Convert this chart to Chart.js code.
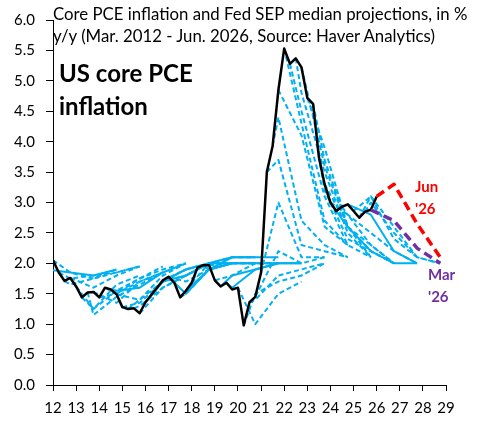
<!DOCTYPE html>
<html>
<head>
<meta charset="utf-8">
<script src="https://cdn.jsdelivr.net/npm/chart.js@4.4.1/dist/chart.umd.min.js"></script>
<style>
  body { margin: 0; background: #fff; }
  #wrap { position: relative; width: 480px; height: 422px; }
  .txt { position: absolute; white-space: nowrap; font-family: Lato, sans-serif; color: #000; }
  #title { left: 53px; top: 3px; font-size: 16.8px; line-height: 22px; }
  #big { left: 59px; top: 56px; font-size: 24px; line-height: 33px; font-weight: bold; }
  #jun { left: 415px; top: 175px; font-size: 15px; line-height: 22px; font-weight: bold; color: #ff0000; }
  #mar { left: 428px; top: 263px; font-size: 15px; line-height: 22px; font-weight: bold; color: #7030a0; }
</style>
</head>
<body>
<div id="wrap">
  <canvas id="chart" width="480" height="422"></canvas>
  <div id="title" class="txt">Core PCE inflation and Fed SEP median projections, in %<br>y/y (Mar. 2012 - Jun. 2026, Source: Haver Analytics)</div>
  <div id="big" class="txt">US core PCE<br>inflation</div>
  <div id="jun" class="txt">Jun<br>'26</div>
  <div id="mar" class="txt">Mar<br>'26</div>
</div>
<script>
// quarterly core PCE y/y, starting 2011Q4 (x = 11.75)
const actualStart = 11.75;
const coreActual = [
  1.90,
  2.05, 1.85, 1.71, 1.76,   // 2012
  1.62, 1.44, 1.52, 1.53,   // 2013
  1.44, 1.60, 1.57, 1.49,   // 2014
  1.28, 1.25, 1.26, 1.18,   // 2015
  1.36, 1.48, 1.60, 1.72,   // 2016
  1.78, 1.68, 1.44, 1.55,   // 2017
  1.68, 1.93, 1.97, 1.97,   // 2018
  1.72, 1.62, 1.68, 1.57,   // 2019
  1.60, 0.98, 1.36, 1.45,   // 2020
  1.85, 3.50, 3.93, 4.85,   // 2021
  5.53, 5.28, 5.37, 5.22,   // 2022
  4.72, 4.62, 3.75, 3.30,   // 2023
  3.00, 2.86, 2.93, 2.97,   // 2024
  2.86, 2.75, 2.85, 2.88,   // 2025
  3.10                      // 2026Q1
];

// SEP meetings and their Q4/Q4 medians (SEP year, +1, +2, ...)
const sepDates = [
  '2012-03','2012-06','2012-09','2012-12',
  '2013-03','2013-06','2013-09','2013-12',
  '2014-03','2014-06','2014-09','2014-12',
  '2015-03','2015-06','2015-09','2015-12',
  '2016-03','2016-06','2016-09','2016-12',
  '2017-03','2017-06','2017-09','2017-12',
  '2018-03','2018-06','2018-09','2018-12',
  '2019-03','2019-06','2019-09','2019-12',
  '2020-06','2020-09','2020-12',
  '2021-03','2021-06','2021-09','2021-12',
  '2022-03','2022-06','2022-09','2022-12',
  '2023-03','2023-06','2023-09','2023-12',
  '2024-03','2024-06','2024-09','2024-12',
  '2025-03','2025-06','2025-09','2025-12',
  '2026-03','2026-06'
];
const sepMedians = [
  [1.85, 1.80, 1.90], [1.85, 1.75, 1.90], [1.75, 1.80, 1.85, 1.95], [1.65, 1.75, 1.85, 1.95],
  [1.60, 1.80, 1.95], [1.25, 1.65, 1.80], [1.25, 1.55, 1.75, 1.95], [1.15, 1.45, 1.65, 1.85],
  [1.35, 1.70, 1.85], [1.50, 1.70, 1.85], [1.50, 1.75, 1.90, 2.00], [1.55, 1.60, 1.85, 2.00],
  [1.40, 1.80, 2.00], [1.35, 1.70, 1.90], [1.40, 1.70, 1.90, 2.00], [1.30, 1.60, 1.80, 2.00],
  [1.60, 1.80, 2.00], [1.70, 1.90, 2.00], [1.70, 1.80, 2.00, 2.00], [1.70, 1.80, 2.00, 2.00],
  [1.90, 2.00, 2.00], [1.70, 1.90, 2.00], [1.50, 1.90, 2.00, 2.00], [1.50, 1.90, 2.00, 2.00],
  [1.90, 2.10, 2.10], [2.00, 2.10, 2.10], [2.00, 2.10, 2.10, 2.10], [1.90, 2.00, 2.00, 2.00],
  [2.00, 2.00, 2.00], [1.80, 2.00, 2.00], [1.80, 1.90, 2.00, 2.00], [1.60, 1.90, 2.00, 2.00],
  [1.00, 1.50, 1.70], [1.50, 1.70, 1.80, 2.00], [1.40, 1.80, 1.90, 2.00],
  [2.20, 2.00, 2.10], [3.00, 2.10, 2.10], [3.70, 2.30, 2.20, 2.10], [4.40, 2.70, 2.30, 2.10],
  [4.10, 2.60, 2.30], [4.30, 2.70, 2.30], [4.50, 3.10, 2.30, 2.10], [4.80, 3.50, 2.50, 2.10],
  [3.60, 2.60, 2.10], [3.90, 2.60, 2.20], [3.70, 2.60, 2.30, 2.00], [3.20, 2.40, 2.20, 2.00],
  [2.60, 2.20, 2.00], [2.80, 2.30, 2.00], [2.60, 2.20, 2.00, 2.00], [2.80, 2.50, 2.20, 2.00],
  [2.80, 2.20, 2.00], [3.10, 2.40, 2.10], [3.10, 2.60, 2.10, 2.00], [3.00, 2.50, 2.10, 2.00],
  [2.70, 2.25, 2.00], [3.30, 2.65, 2.10]
];
const xTicks = [12, 29];
const yTicks = [0, 6];

// which SEP lines Haver drew solid, and the two highlighted ones
const solidSeps = ['2012-03','2014-12','2016-06','2016-12','2017-09','2018-03','2018-09','2018-12','2019-09','2019-12','2024-09','2025-03'];
const highlight = { '2026-03': '#7030a0', '2026-06': '#ff0000' };

const BLUE = '#00b0f0';
const font = { family: 'Lato, sans-serif', size: 15 };

const datasets = [];
sepDates.forEach((d, i) => {
  const [yy, mm] = d.split('-').map(Number);
  const startX = yy - 2000 + (mm / 3 - 2) * 0.25;
  const idx = Math.round((startX - actualStart) * 4);
  const pts = [{ x: startX, y: coreActual[idx] }];
  sepMedians[i].forEach((v, k) => pts.push({ x: yy - 2000 + k + 0.75, y: v }));
  const hl = highlight[d];
  datasets.push({
    label: d,
    data: pts,
    borderColor: hl || BLUE,
    borderWidth: hl ? 3.5 : 2,
    borderDash: hl ? [9, 5] : (solidSeps.includes(d) ? [] : [5, 3]),
    order: hl ? 0 : 3
  });
});
datasets.push({
  label: 'Core PCE',
  data: coreActual.map((v, i) => ({ x: actualStart + i / 4, y: v })),
  borderColor: '#000',
  borderWidth: 2.5,
  order: 1
});

new Chart(document.getElementById('chart'), {
  type: 'line',
  data: { datasets },
  options: {
    responsive: false,
    animation: false,
    devicePixelRatio: 1,
    layout: { padding: { left: 0, right: 34, top: 18, bottom: 0 } },
    elements: {
      point: { radius: 0 },
      line: { tension: 0, borderJoinStyle: 'round', borderCapStyle: 'butt', fill: false }
    },
    datasets: { line: { clip: { left: 0, top: false, right: false, bottom: false } } },
    plugins: { legend: { display: false }, tooltip: { enabled: false } },
    scales: {
      x: {
        type: 'linear', min: xTicks[0], max: xTicks[1],
        ticks: { stepSize: 1, color: '#000', font, padding: 8, maxRotation: 0 },
        grid: { drawOnChartArea: false, drawTicks: true, tickLength: 6, color: '#000' },
        border: { color: '#000', width: 1 },
        afterFit(s) { s.height = 37; }
      },
      y: {
        min: yTicks[0], max: yTicks[1],
        ticks: { stepSize: 0.5, color: '#000', font, padding: 11, callback: v => v.toFixed(1) },
        grid: { drawOnChartArea: false, drawTicks: true, tickLength: 7, color: '#000' },
        border: { color: '#000', width: 1 },
        afterFit(s) { s.width = 53; }
      }
    }
  }
});
</script>
</body>
</html>
